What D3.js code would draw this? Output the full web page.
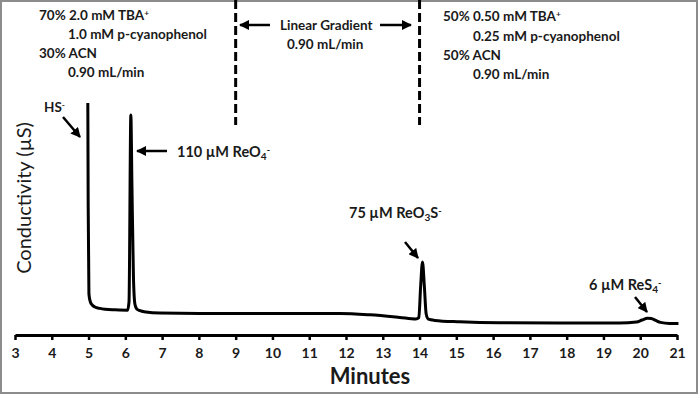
<!DOCTYPE html>
<html>
<head>
<meta charset="utf-8">
<title>Conductivity chromatogram</title>
<style>
  body { margin: 0; background: #fff; }
  text { font-family: Lato, "Open Sans", sans-serif; font-weight: bold; fill: #1a1a1a; }
</style>
</head>
<body>
<script src="https://cdn.jsdelivr.net/npm/d3@7"></script>
<script>
// trace (minutes, conductivity in arbitrary units)
let time = [4.98, 4.99, 5.01, 5.05, 5.10, 5.17, 5.31, 5.45, 5.72, 6.06, 6.10, 6.15, 6.18, 6.22, 6.26, 6.31, 6.38, 6.56,
    6.94, 8.03, 10.0, 11.83, 12.65, 13.46, 13.9, 13.98, 14.03, 14.08, 14.13, 14.18, 14.24, 14.41, 15.09, 16.18, 18.0,
    19.44, 19.9, 20.05, 20.2, 20.3, 20.42, 20.55, 20.8, 21.04];
let signal = [111.5, 60, 16, 12, 10.5, 9.5, 8.8, 8.4, 8.1, 7.9, 12, 105.5, 70, 25, 11, 8.5, 7.8, 7,
    6.5, 6.3, 6.3, 6.3, 5.6, 4.3, 3.5, 4.2, 20, 32, 20, 6, 3.4, 2.8, 2.1, 1.6, 1.5,
    1.5, 2, 3, 3.9, 3.8, 2.8, 1.8, 1.3, 1.3];

let xTicks = d3.range(3, 22);
let gradientBounds = [9, 14];

let width = 698, height = 394;

let svg = d3.select('body').append('svg').attr('width', width).attr('height', height);

// outer frame
svg.append('rect')
    .attr('x', 1).attr('y', 1)
    .attr('width', width - 2).attr('height', height - 2)
    .attr('fill', '#fff').attr('stroke', '#8c8c8c').attr('stroke-width', 2);

let xScale = d3.scaleLinear().domain([3, 21]).range([15, 677]);
let yScale = d3.scaleLinear().domain([0, 120]).range([326, 86]);

// x axis
let xAxis = d3.axisBottom(xScale).tickValues(xTicks).tickFormat(d3.format('d')).tickSize(5).tickSizeOuter(0);
let gx = svg.append('g')
    .attr('transform', 'translate(0,335)')
    .call(xAxis);
gx.select('.domain').attr('stroke', '#000').attr('stroke-width', 3);
gx.selectAll('.tick line').attr('stroke', '#000').attr('stroke-width', 2.5);
gx.selectAll('.tick text')
    .attr('y', 13)
    .style('font-family', 'Lato, sans-serif')
    .style('font-weight', 'bold')
    .style('font-size', '14px')
    .attr('fill', '#1a1a1a');

svg.append('text')
    .attr('x', 370).attr('y', 384)
    .attr('text-anchor', 'middle')
    .style('font-size', '22px')
    .text('Minutes');

svg.append('text')
    .attr('transform', 'translate(31,198) rotate(-90)')
    .attr('text-anchor', 'middle')
    .style('font-size', '20px')
    .style('font-weight', 'normal')
    .text('Conductivity (µS)');

// trace
let line = d3.line()
    .x(function(d, i) { return xScale(time[i]); })
    .y(function(d) { return yScale(d); })
    .curve(d3.curveMonotoneX);

svg.append('path')
    .datum(signal)
    .attr('d', line)
    .attr('fill', 'none')
    .attr('stroke', '#000')
    .attr('stroke-width', 3)
    .attr('stroke-linejoin', 'round');

// dashed gradient boundaries
svg.selectAll('.bound')
    .data(gradientBounds)
    .enter()
    .append('line')
    .attr('class', 'bound')
    .attr('x1', function(d) { return xScale(d); })
    .attr('x2', function(d) { return xScale(d); })
    .attr('y1', 0).attr('y2', 125)
    .attr('stroke', '#000')
    .attr('stroke-width', 3)
    .attr('stroke-dasharray', '9,4');

// arrow marker
svg.append('defs').append('marker')
    .attr('id', 'head')
    .attr('viewBox', '0 0 10 10')
    .attr('refX', 9).attr('refY', 5)
    .attr('markerWidth', 4).attr('markerHeight', 4)
    .attr('orient', 'auto')
    .append('path')
    .attr('d', 'M0,0 L10,5 L0,10 Z')
    .attr('fill', '#000');

function arrow(x1, y1, x2, y2) {
    svg.append('line')
        .attr('x1', x1).attr('y1', y1).attr('x2', x2).attr('y2', y2)
        .attr('stroke', '#000').attr('stroke-width', 2.5)
        .attr('marker-end', 'url(#head)');
}

function label(x, y, parts, size) {
    size = size || 13.5;
    let t = svg.append('text').attr('x', x).attr('y', y).style('font-size', size + 'px');
    parts.forEach(function(p) {
        let s = t.append('tspan').text(p.t);
        if (p.sup) s.attr('baseline-shift', '45%').style('font-size', (size * 0.62) + 'px');
        if (p.sub) s.attr('baseline-shift', '-25%').style('font-size', (size * 0.7) + 'px');
    });
    return t;
}

// eluent conditions
label(39, 20, [{t: '70% 2.0 mM TBA'}, {t: '+', sup: true}]);
label(68, 39, [{t: '1.0 mM p-cyanophenol'}]);
label(39, 58, [{t: '30% ACN'}]);
label(68, 77, [{t: '0.90 mL/min'}]);

label(443, 21, [{t: '50% 0.50 mM TBA'}, {t: '+', sup: true}]);
label(473, 41, [{t: '0.25 mM p-cyanophenol'}]);
label(443, 60, [{t: '50% ACN'}]);
label(473, 79, [{t: '0.90 mL/min'}]);

label(280, 30, [{t: 'Linear Gradient'}]);
label(287, 49, [{t: '0.90 mL/min'}]);
arrow(270, 25, 240, 25);
arrow(380, 25, 411, 25);

// peak labels
label(44, 112, [{t: 'HS'}, {t: '-', sup: true}]);
arrow(63, 117, 80, 137);

label(177, 157, [{t: '110 µM ReO'}, {t: '4', sub: true}, {t: '-', sup: true}], 14.5);
arrow(167, 151, 137, 151);

label(349, 218, [{t: '75 µM ReO'}, {t: '3', sub: true}, {t: 'S'}, {t: '-', sup: true}], 14.5);
arrow(405, 242, 418, 258);

label(589, 290, [{t: '6 µM ReS'}, {t: '4', sub: true}, {t: '-', sup: true}], 14.5);
arrow(635, 297, 647, 312);
</script>
</body>
</html>
